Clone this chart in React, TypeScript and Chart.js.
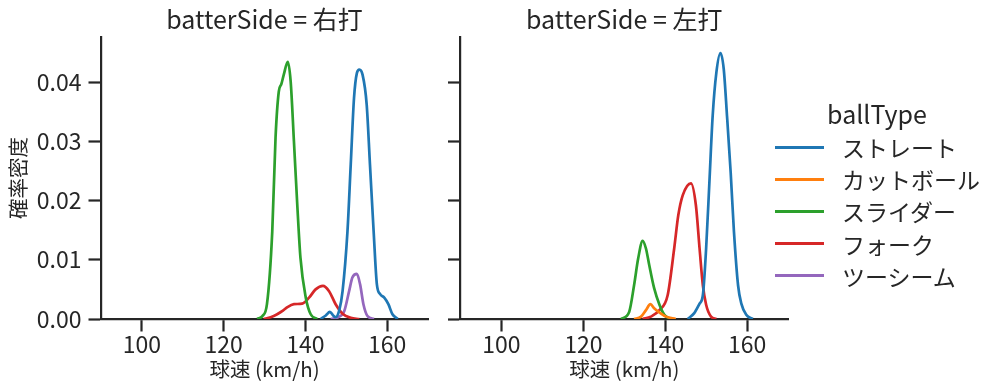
import React, { useEffect, useRef } from 'react';
import { Chart, registerables } from 'chart.js';

Chart.register(...registerables);

const FONT = '"Noto Sans CJK JP", "Noto Sans", sans-serif';
const TEXT = '#262626';

const ballTypes = ['ストレート', 'カットボール', 'スライダー', 'フォーク', 'ツーシーム'];
const colors = ['#1f77b4', '#ff7f0e', '#2ca02c', '#d62728', '#9467bd'];
const panelTitles = ['batterSide = 右打', 'batterSide = 左打'];
const legendTitle = 'ballType';
const xLabel = '球速 (km/h)';
const yLabel = '確率密度';
const xTicks = [100, 120, 140, 160];
const yTicks = [0, 0.01, 0.02, 0.03, 0.04];
const xMin = 90;
const xMax = 170;
const yMax = 0.0476;

// batterSide = 右打  [speed, density]
const straightRHB = [[143.7, 0], [145.0, 0.0006], [146.0, 0.0012], [146.8, 0.0006], [147.4, 0.0003], [148.3, 0.0015], [149.1, 0.0047], [150.3, 0.0148], [151.1, 0.0261], [151.9, 0.0373], [152.6, 0.0415], [153.2, 0.0421], [154.0, 0.0412], [155.0, 0.0362], [155.8, 0.0261], [156.7, 0.0148], [157.5, 0.0058], [158.3, 0.0042], [159.3, 0.0036], [160.3, 0.0025], [161.3, 0.0008], [162.6, 0]];
const sliderRHB = [[128.2, 0], [129.5, 0.0005], [130.6, 0.0025], [131.9, 0.0148], [132.7, 0.0306], [133.5, 0.0384], [134.1, 0.0396], [134.7, 0.0412], [135.7, 0.0434], [136.4, 0.0401], [137.2, 0.030], [138.0, 0.0195], [138.8, 0.0103], [140.1, 0.0036], [141.3, 0.0008], [142.9, 0]];
const forkRHB = [[129.8, 0], [131.5, 0.0003], [133.1, 0.0008], [134.5, 0.0014], [135.6, 0.002], [137.2, 0.0025], [139.2, 0.0026], [140.9, 0.0036], [142.5, 0.005], [144.3, 0.0056], [145.8, 0.0047], [147.4, 0.0025], [149.1, 0.0009], [151.1, 0.0002], [153.2, 0]];
const twoSeamRHB = [[146.2, 0], [148.0, 0.0003], [149.5, 0.0013], [150.7, 0.0047], [151.5, 0.0070], [152.6, 0.0076], [153.4, 0.0058], [154.2, 0.0025], [155.2, 0.0005], [156.8, 0]];

// batterSide = 左打
const straightLHB = [[145.5, 0], [147.1, 0.001], [148.4, 0.0026], [149.2, 0.004], [150.0, 0.0119], [150.8, 0.0231], [151.6, 0.0343], [152.5, 0.0416], [153.5, 0.0449], [154.3, 0.0422], [155.1, 0.0343], [156.0, 0.0247], [156.8, 0.0147], [157.8, 0.0057], [158.6, 0.0026], [159.8, 0.0007], [161.4, 0]];
const cutterLHB = [[132.4, 0], [134.1, 0.0004], [135.3, 0.0015], [136.4, 0.0025], [137.3, 0.0018], [138.6, 0.0011], [140.2, 0.0004], [142.6, 0]];
const sliderLHB = [[129.2, 0], [131.2, 0.0012], [132.4, 0.0057], [133.4, 0.0102], [134.5, 0.0132], [135.3, 0.0119], [136.1, 0.0091], [137.3, 0.0052], [138.6, 0.0024], [139.8, 0.0007], [141.4, 0]];
const forkLHB = [[134.5, 0], [136.5, 0.0004], [138.6, 0.0015], [140.6, 0.004], [142.2, 0.0119], [143.2, 0.0175], [144.3, 0.0209], [146.3, 0.0229], [147.5, 0.0192], [148.4, 0.0119], [149.2, 0.0057], [150.0, 0.0024], [151.2, 0.0004], [152.5, 0]];

const seriesRHB = [straightRHB, null, sliderRHB, forkRHB, twoSeamRHB];
const seriesLHB = [straightLHB, cutterLHB, sliderLHB, forkLHB, null];

type PanelProps = {
  left: number;
  width: number;
  series: (number[][] | null)[];
  title: string;
  showY: boolean;
  yWidth: number;
  padRight: number;
};

function Panel({ left, width, series, title, showY, yWidth, padRight }: PanelProps) {
  const ref = useRef<HTMLCanvasElement | null>(null);
  useEffect(() => {
    if (!ref.current) return;
    const datasets: any[] = [];
    series.forEach((pts, i) => {
      if (!pts) return;
      datasets.push({
        label: ballTypes[i],
        data: pts.map(([x, y]) => ({ x, y })),
        borderColor: colors[i],
        backgroundColor: colors[i],
        borderWidth: 2.7,
        pointRadius: 0,
        cubicInterpolationMode: 'monotone',
        fill: false,
      });
    });
    const axisCommon = {
      grid: {
        display: true,
        drawOnChartArea: false,
        drawTicks: true,
        tickLength: 12.5,
        tickWidth: 2.2,
        tickColor: TEXT,
      },
      border: { display: true, color: TEXT, width: 2.2 },
    };
    const chart = new Chart(ref.current, {
      type: 'line',
      data: { datasets },
      options: {
        responsive: false,
        animation: false,
        devicePixelRatio: 1,
        layout: { padding: { left: 0, right: padRight, top: 0, bottom: 0 } },
        plugins: {
          legend: { display: false },
          tooltip: { enabled: false },
          title: {
            display: true,
            text: title,
            fullSize: false,
            color: TEXT,
            font: { family: FONT, size: 25, weight: 'normal' },
            padding: { top: 4, bottom: 3 },
          },
        },
        scales: {
          x: {
            type: 'linear',
            min: xMin,
            max: xMax,
            afterBuildTicks: (s: any) => {
              s.ticks = xTicks.map((v) => ({ value: v }));
            },
            afterFit: (s: any) => {
              s.height = 72;
            },
            ticks: {
              color: TEXT,
              font: { family: FONT, size: 23, lineHeight: 0.8 },
              padding: 4,
              maxRotation: 0,
              autoSkip: false,
            },
            title: {
              display: true,
              text: xLabel,
              color: TEXT,
              font: { family: FONT, size: 20.5 },
              padding: { top: 0, bottom: 9.5 },
            },
            ...axisCommon,
          },
          y: {
            type: 'linear',
            min: 0,
            max: yMax,
            afterBuildTicks: (s: any) => {
              s.ticks = yTicks.map((v) => ({ value: v }));
            },
            afterFit: (s: any) => {
              s.width = yWidth;
            },
            ticks: {
              display: showY,
              color: TEXT,
              font: { family: FONT, size: 23 },
              padding: 7,
              callback: (v: any) => Number(v).toFixed(2),
            },
            title: {
              display: showY,
              text: yLabel,
              color: TEXT,
              font: { family: FONT, size: 20.5 },
              padding: { top: 6, bottom: 0 },
            },
            ...axisCommon,
          },
        },
      },
    } as any);
    return () => chart.destroy();
  }, []);
  return (
    <canvas
      ref={ref}
      width={width}
      height={391}
      style={{ position: 'absolute', left, top: 0, width, height: 391 }}
    />
  );
}

function Legend() {
  return (
    <div style={{ position: 'absolute', left: 0, top: 0, width: 997, height: 391, pointerEvents: 'none', fontFamily: FONT, color: TEXT }}>
      <div style={{ position: 'absolute', left: 777, width: 200, top: 113 - 16, height: 32, lineHeight: '32px', fontSize: 25, textAlign: 'center' }}>{legendTitle}</div>
      {ballTypes.map((name, i) => {
        const cy = 147 + i * 32.2;
        return (
          <React.Fragment key={name}>
            <div style={{ position: 'absolute', left: 775, top: cy - 1.5, width: 49, height: 3, background: colors[i] }} />
            <div style={{ position: 'absolute', left: 842, top: cy - 15, height: 30, lineHeight: '30px', fontSize: 23, whiteSpace: 'nowrap' }}>{name}</div>
          </React.Fragment>
        );
      })}
    </div>
  );
}

export default function App() {
  return (
    <div style={{ position: 'absolute', left: 0, top: 0, width: 997, height: 391, background: '#fff', overflow: 'hidden' }}>
      <Panel left={0} width={440} series={seriesRHB} title={panelTitles[0]} showY={true} yWidth={101} padRight={12} />
      <Panel left={440} width={360} series={seriesLHB} title={panelTitles[1]} showY={false} yWidth={20.5} padRight={12} />
      <Legend />
    </div>
  );
}
